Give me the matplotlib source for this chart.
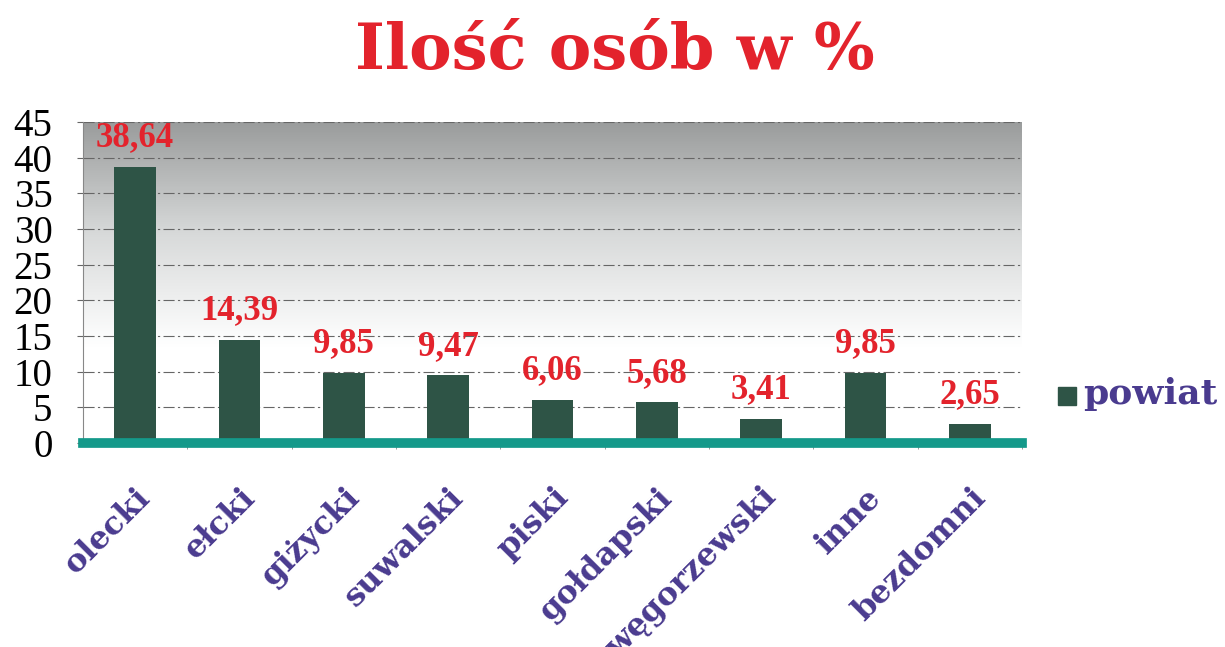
import numpy as np
import matplotlib.pyplot as plt
from matplotlib.colors import LinearSegmentedColormap
from matplotlib.patches import Rectangle

categories = ['olecki', 'ełcki', 'giżycki', 'suwalski', 'piski',
              'gołdapski', 'węgorzewski', 'inne', 'bezdomni']
values = [38.64, 14.39, 9.85, 9.47, 6.06, 5.68, 3.41, 9.85, 2.65]
labels = ['38,64', '14,39', '9,85', '9,47', '6,06', '5,68', '3,41', '9,85', '2,65']
yticks = [0, 5, 10, 15, 20, 25, 30, 35, 40, 45]

serif = ['DejaVu Serif']
times = ['Liberation Serif']
bar_color = '#2e5446'
red = '#e3232c'
purple = '#4a3b8f'

fig = plt.figure(figsize=(12.25, 6.47), dpi=100)
ax = fig.add_axes([83 / 1225, 1 - 443 / 647, (1022 - 83) / 1225, (443 - 122) / 647])

x = np.arange(len(categories))
ax.set_xlim(-0.5, len(categories) - 0.5)
ax.set_ylim(0, 45)

# gradient background: gray at top fading to white
cmap = LinearSegmentedColormap.from_list('bg', [(0, '#ffffff'), (0.3, '#ffffff'),
                                                 (0.65, '#d8dada'), (1, '#9a9c9c')])
grad = np.linspace(0, 1, 256).reshape(-1, 1)
ax.imshow(grad, extent=(-0.5, len(categories) - 0.5, 0, 45), origin='lower',
          aspect='auto', cmap=cmap, zorder=0)

for t in yticks[1:]:
    ax.axhline(t, color='#666666', lw=0.8, ls=(0, (10, 3, 2, 3)), zorder=1)

ax.bar(x, values, width=0.4, color=bar_color, zorder=3)
ax.axhline(0, color='#14998a', lw=7, zorder=4, clip_on=False)

for xi, v, lab in zip(x, values, labels):
    ax.text(xi, v + 1.8, lab, ha='center', va='bottom', color=red,
            fontsize=25, fontweight='bold', family=times, zorder=5)

ax.set_yticks(yticks)
ax.set_yticklabels([str(t) for t in yticks], fontsize=28, family=times)
ax.tick_params(axis='y', length=4, width=0.8, color='#666666', pad=18)

ax.set_xticks(x + 0.5, minor=True)
ax.set_xticks(x)
ax.set_xticklabels(categories, rotation=45, ha='right', rotation_mode='anchor',
                   fontsize=23, fontweight='bold', color=purple, family=serif)
ax.tick_params(axis='x', which='major', length=0, pad=28)
ax.tick_params(axis='x', which='minor', length=4, color='#888888')

for s in ['top', 'right', 'bottom']:
    ax.spines[s].set_visible(False)
ax.spines['left'].set_color('#888888')
ax.spines['left'].set_linewidth(0.8)

fig.text(615 / 1225, 1 - 52 / 647, 'Ilość osób w %', ha='center', va='center',
         fontsize=46, fontweight='bold', color=red, family=serif)

# legend
fig.patches.append(Rectangle((1058 / 1225, 1 - 405 / 647), 18 / 1225, 18 / 647,
                             transform=fig.transFigure, color=bar_color, figure=fig))
fig.text(1083 / 1225, 1 - 394 / 647, 'powiat', ha='left', va='center',
         fontsize=26, fontweight='bold', color=purple, family=serif)

fig.savefig('out.png', dpi=100)
